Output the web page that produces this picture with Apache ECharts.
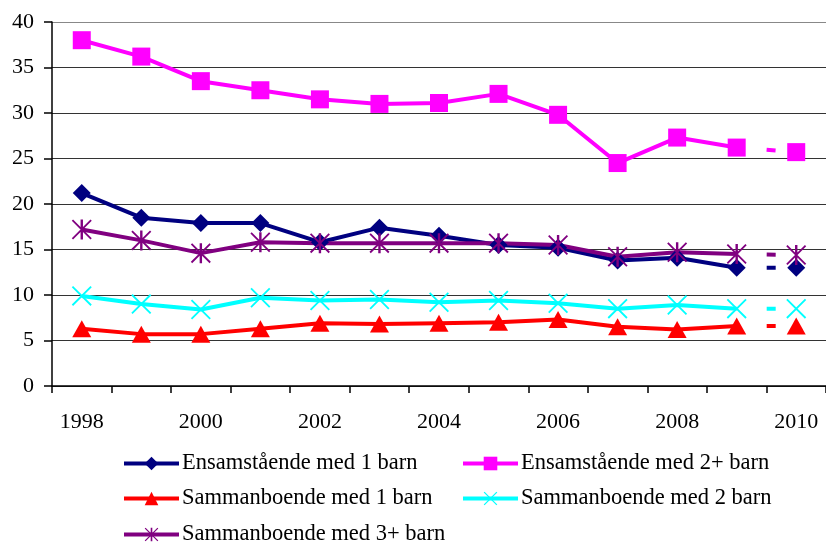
<!DOCTYPE html>
<html>
<head>
<meta charset="utf-8">
<script src="https://cdn.jsdelivr.net/npm/echarts@6/dist/echarts.min.js"></script>
<style>html,body{margin:0;padding:0;background:#fff;}#c{width:826px;height:545px;}</style>
</head>
<body>
<div id="c"></div>
<script>
var years = ['1998','1999','2000','2001','2002','2003','2004','2005','2006','2007','2008','2009','2010'];
var ens1   = [21.2, 18.5, 17.9, 17.9, 15.8, 17.4, 16.5, 15.5, 15.2, 13.8, 14.1, 13.0, 13.0];
var ens2   = [38.0, 36.2, 33.5, 32.5, 31.5, 31.0, 31.1, 32.1, 29.8, 24.5, 27.3, 26.2, 25.7];
var sam1   = [6.3, 5.7, 5.7, 6.3, 6.9, 6.8, 6.9, 7.0, 7.3, 6.5, 6.2, 6.6, 6.6];
var sam2   = [9.9, 9.0, 8.4, 9.7, 9.4, 9.5, 9.2, 9.4, 9.1, 8.5, 8.9, 8.5, 8.5];
var sam3   = [17.2, 16.0, 14.6, 15.8, 15.7, 15.7, 15.7, 15.7, 15.5, 14.2, 14.7, 14.5, 14.4];
var names = ['Ensamstående med 1 barn','Ensamstående med 2+ barn','Sammanboende med 1 barn','Sammanboende med 2 barn','Sammanboende med 3+ barn'];

var xPath = 'path://M0,1.3 L1.3,0 L20,18.7 L18.7,20 Z M18.7,0 L20,1.3 L1.3,20 L0,18.7 Z';
var starPath = 'path://M0,1.3 L1.3,0 L20,18.7 L18.7,20 Z M18.7,0 L20,1.3 L1.3,20 L0,18.7 Z M8.8,0 L11.2,0 L11.2,20 L8.8,20 Z';

var defs = [
  {name:names[0], data:ens1, color:'#000080', symbol:'diamond', size:[18,18]},
  {name:names[1], data:ens2, color:'#FF00FF', symbol:'rect', size:[18,18]},
  {name:names[2], data:sam1, color:'#FF0000', symbol:'triangle', size:[19,17]},
  {name:names[3], data:sam2, color:'#00FFFF', symbol:xPath, size:[20,20]},
  {name:names[4], data:sam3, color:'#800080', symbol:starPath, size:[20,20]}
];

var series = [];
defs.forEach(function(d){
  var n = d.data.length;
  var solid = d.data.map(function(v,i){ return i < n-1 ? v : '-'; });
  var dashed = d.data.map(function(v,i){
    if (i === n-2) return {value:v, symbol:'none'};
    if (i === n-1) return v;
    return '-';
  });
  series.push({
    name:d.name, type:'line', data:solid, symbol:d.symbol, symbolSize:d.size,
    lineStyle:{color:d.color, width:4}, itemStyle:{color:d.color}, animation:false, z:2
  });
  series.push({
    name:d.name+' (prognos)', type:'line', data:dashed, symbol:d.symbol, symbolSize:d.size,
    lineStyle:{color:d.color, width:4, type:[0,30,9,30]}, itemStyle:{color:d.color}, animation:false, z:2
  });
});

var chart = echarts.init(document.getElementById('c'), null, {renderer:'canvas'});
var font = 'Liberation Serif';
function leg(name, left, top){
  return {
    orient:'horizontal', left:left, top:top, padding:0, itemWidth:55, itemHeight:17, itemGap:0,
    lineStyle:{width:4},
    textStyle:{fontFamily:font, fontSize:22.5, color:'#000', lineHeight:22, padding:[0,0,0,-2]},
    data:[name]
  };
}
chart.setOption({
  animation:false,
  backgroundColor:'#fff',
  grid:{left:52, right:0, top:22, bottom:159},
  legend:[
    leg(names[0], 122, 452),
    leg(names[2], 122, 487),
    leg(names[4], 122, 523),
    leg(names[1], 461, 452),
    leg(names[3], 461, 487)
  ],
  xAxis:{
    type:'category', data:years, boundaryGap:true,
    axisLine:{lineStyle:{color:'#000', width:1.5}},
    axisTick:{show:true, length:7, interval:0, lineStyle:{color:'#000', width:1.5}},
    axisLabel:{interval:1, margin:25, fontFamily:font, fontSize:22, color:'#000'},
    splitLine:{show:false}
  },
  yAxis:{
    type:'value', min:0, max:40, interval:5,
    axisLine:{show:true, lineStyle:{color:'#000', width:1.5}},
    axisTick:{show:true, length:8, lineStyle:{color:'#000', width:1.5}},
    axisLabel:{margin:18, fontFamily:font, fontSize:22, color:'#000'},
    splitLine:{show:true, lineStyle:{color:['#333','#333','#333','#333','#333','#333','#333','#333','#888'], width:1}}
  },
  series:series
});
</script>
</body>
</html>
